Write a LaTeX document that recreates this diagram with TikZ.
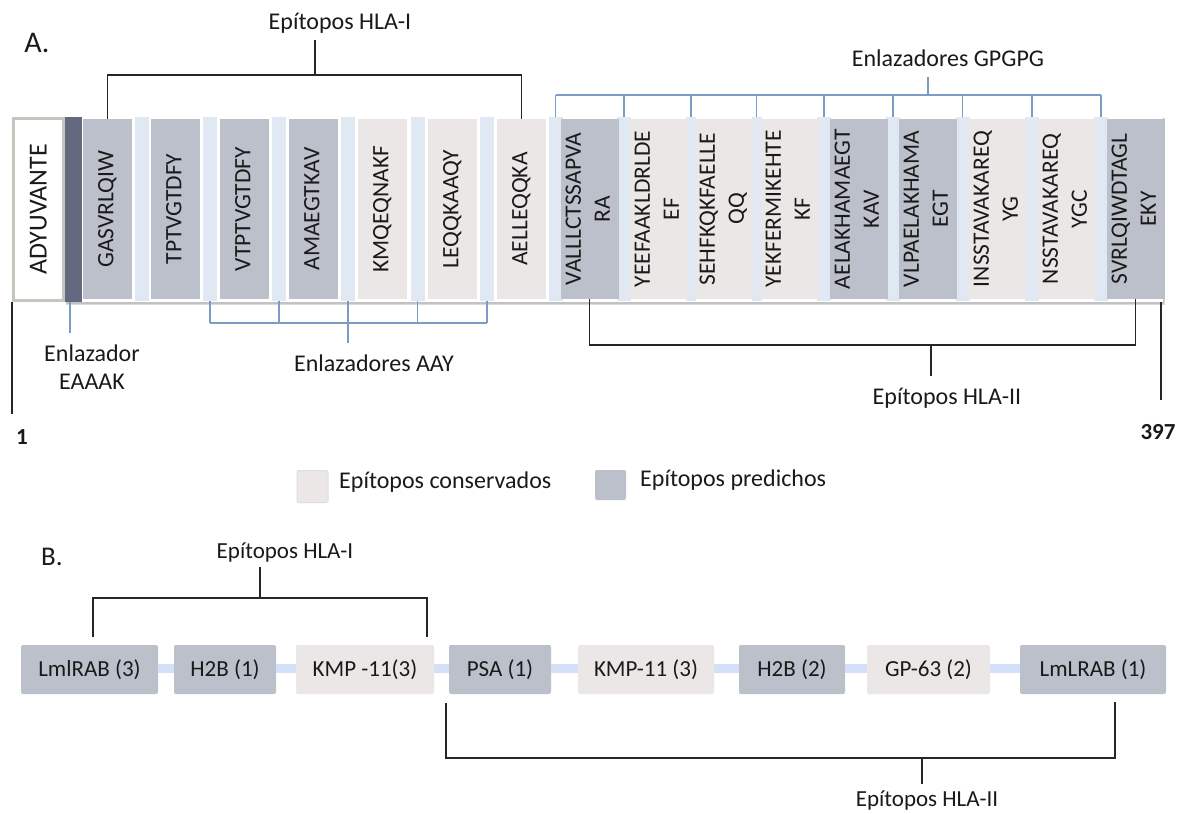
\documentclass[tikz,border=0pt]{standalone}
\usepackage{fontspec}
\setmainfont{Carlito}
\usetikzlibrary{calc}
\definecolor{pred}{HTML}{BCC0CB}
\definecolor{cons}{HTML}{EBE7E6}
\definecolor{lnkc}{HTML}{DFE8F3}
\definecolor{eaaak}{HTML}{636A80}
\definecolor{adjb}{HTML}{C8C5BF}
\definecolor{blueln}{HTML}{7D9BC4}
\definecolor{bbarc}{HTML}{D3E0F7}
\definecolor{txt}{HTML}{1A1A1A}
\definecolor{consb}{HTML}{E0DCDB}
\newcommand{\vtext}[1]{\rotatebox{90}{\begin{tabular}{@{}c@{}}#1\end{tabular}}}
\begin{document}
\begin{tikzpicture}[x=1pt,y=-1pt,
  epi/.style={minimum width=49pt,minimum height=180pt,inner sep=0pt,outer sep=0pt,
    font=\fontsize{23.5}{29}\selectfont,text=txt},
  lnk/.style={fill=lnkc,minimum width=14pt,minimum height=184pt,inner sep=0pt,outer sep=0pt},
  lbl/.style={font=\fontsize{24}{29}\selectfont,text=txt,inner sep=0pt,align=center},
  big/.style={font=\fontsize{30}{34}\selectfont,text=txt,inner sep=0pt},
  num/.style={font=\fontsize{23}{28}\selectfont\bfseries,text=txt,inner sep=0pt},
  blk/.style={line width=1.5pt,draw=black!85},
  blu/.style={line width=1.3pt,draw=blueln},
  bbox/.style={rounded corners=2pt,minimum height=49pt,inner sep=0pt,outer sep=0pt,
    font=\fontsize{23}{28}\selectfont,text=txt},
  bbar/.style={line width=9pt,draw=bbarc},
  leg/.style={rounded corners=2pt,minimum width=31pt,minimum height=32pt,inner sep=0pt}
]
\useasboundingbox[fill=white] (0,0) rectangle (1184,814);

% ---------------- A ----------------
\node[big] (labA) at (37,43) {A.};

% strip background with shadow
\fill[black!14] (66,118) rectangle (1165,305);
\fill[black!24] (66,118) rectangle (1164,303.5);
\fill[white] (65,116) rectangle (1163,302);

\node[draw=adjb,line width=3pt,fill=white,minimum width=50pt,minimum height=182pt,
  inner sep=0pt,font=\fontsize{26}{30}\selectfont,text=txt] (adj) at (38.5,209.5) {\rotatebox{90}{ADYUVANTE}};
\node[fill=eaaak,minimum width=17pt,minimum height=185pt,inner sep=0pt] (eaaak) at (73.5,209.5) {};

% linkers
\node[lnk] (l1) at (141.5,209) {};
\node[lnk] (l2) at (210,209) {};
\node[lnk] (l3) at (279,209) {};
\node[lnk] (l4) at (348,209) {};
\node[lnk] (l5) at (417.5,209) {};
\node[lnk] (l6) at (487,209) {};
\node[lnk] (l7) at (555.5,209) {};
\node[lnk] (l8) at (624,209) {};
\node[lnk,minimum width=10pt] (l9) at (691,209) {};
\node[lnk,minimum width=10pt] (l10) at (756.5,209) {};
\node[lnk] (l11) at (824,209) {};
\node[lnk] (l12) at (893,209) {};
\node[lnk] (l13) at (962.5,209) {};
\node[lnk] (l14) at (1032,209) {};
\node[lnk] (l15) at (1101,209) {};

% epitopes
\node[epi,fill=pred] (e1) at (107.5,209) {\vtext{GASVRLQIW}};
\node[epi,fill=pred] (e2) at (175.5,209) {\vtext{TPTVGTDFY}};
\node[epi,fill=pred] (e3) at (244.5,209) {\vtext{VTPTVGTDFY}};
\node[epi,fill=pred] (e4) at (313.5,209) {\vtext{AMAEGTKAV}};
\node[epi,fill=cons] (e5) at (382.5,209) {\vtext{KMQEQNAKF}};
\node[epi,fill=cons] (e6) at (452.5,209) {\vtext{LEQQKAAQY}};
\node[epi,fill=cons] (e7) at (521.5,209) {\vtext{AELLEQQKA}};
\node[epi,fill=pred] (e8) at (589.5,209) {\vtext{VALLLCTSSAPVA\\RA}};
\node[epi,fill=cons] (e9) at (658.5,209) {\vtext{YEEFAAKLDRLDE\\EF}};
\node[epi,fill=cons] (e10) at (723.5,209) {\vtext{SEHFKQKFAELLE\\QQ}};
\node[epi,fill=cons] (e11) at (789.5,209) {\vtext{YEKFERMIKEHTE\\KF}};
\node[epi,fill=pred] (e12) at (858.5,209) {\vtext{AELAKHAMAEGT\\KAV}};
\node[epi,fill=pred] (e13) at (927.5,209) {\vtext{VLPAELAKHAMA\\EGT}};
\node[epi,fill=cons] (e14) at (997.5,209) {\vtext{INSSTAVAKAREQ\\YG}};
\node[epi,fill=cons] (e15) at (1066.5,209) {\vtext{NSSTAVAKAREQ\\YGC}};
\node[epi,fill=pred] (e16) at (1135.5,209) {\vtext{SVRLQIWDTAGL\\EKY}};

% HLA-I bracket (A)
\node[lbl] (hlaIa) at (340,23) {Epítopos HLA-I};
\coordinate (hIatop) at (315,40);
\coordinate (hIay) at (315,75);
\draw[blk] (hIatop) -- (hIay);
\draw[blk] (e1.north) -- (e1.north |- hIay) -- (e7.north |- hIay) -- (e7.north);

% GPGPG bracket
\node[lbl] (gp) at (948,58) {Enlazadores GPGPG};
\coordinate (gptop) at (928,77);
\coordinate (gpy) at (928,95);
\draw[blu] (gptop) -- (gpy);
\draw[blu] (l7.north |- gpy) -- (l15.north |- gpy);
\foreach \k in {7,...,15}{\draw[blu] (l\k.north) -- (l\k.north |- gpy);}

% AAY bracket
\coordinate (aay) at (348,323);
\coordinate (aaybot) at (348,343);
\draw[blu] (l2.south |- aay) -- (l6.south |- aay);
\foreach \k in {2,...,6}{\draw[blu] (l\k.south) -- (l\k.south |- aay);}
\draw[blu] (aay) -- (aaybot);
\node[lbl] (aaytxt) at (374,363) {Enlazadores AAY};

% EAAAK pointer
\coordinate (eaptr) at (70,333);
\coordinate (eastart) at (70,302);
\draw[blu] (eastart) -- (eaptr);
\node[lbl,align=center] (eatxt) at (92,367) {Enlazador\\[-1pt]EAAAK};

% HLA-II bracket (A)
\coordinate (hIIay) at (931,345);
\coordinate (hIIabot) at (931,376);
\draw[blk] (e8.south) -- (e8.south |- hIIay) -- (e16.south |- hIIay) -- (e16.south);
\draw[blk] (hIIay) -- (hIIabot);
\node[lbl] (hlaIIa) at (947,398) {Epítopos HLA-II};

% ends 1 and 397
\node[num] (one) at (22,437) {1};
\coordinate (oneln) at (12,414);
\draw[line width=1.5pt,black!85] (adj.south west) -- (oneln);
\node[num] (end) at (1158,432) {397};
\coordinate (endtop) at (1161,302);
\coordinate (endln) at (1161,400);
\draw[line width=1.5pt,black!85] (endtop) -- (endln);

% legend
\node[leg,fill=cons,draw=consb,line width=1pt] (legc) at (312.5,486.5) {};
\node[lbl,anchor=west] (legct) at (339,482) {Epítopos conservados};
\node[leg,fill=pred,minimum height=30pt] (legp) at (610.5,485) {};
\node[lbl,anchor=west] (legpt) at (640,480) {Epítopos predichos};

% ---------------- B ----------------
\node[big,font=\fontsize{27}{30}\selectfont] (labB) at (52,557) {B.};

\node[bbox,fill=pred,minimum width=137pt] (b1) at (89.5,669.5) {LmlRAB (3)};
\node[bbox,fill=pred,minimum width=102pt] (b2) at (225,669.5) {H2B (1)};
\node[bbox,fill=cons,minimum width=138pt] (b3) at (365,669.5) {KMP -11(3)};
\node[bbox,fill=pred,minimum width=102pt] (b4) at (500,669.5) {PSA (1)};
\node[bbox,fill=cons,minimum width=136pt] (b5) at (646,669.5) {KMP-11 (3)};
\node[bbox,fill=pred,minimum width=106pt] (b6) at (792,669.5) {H2B (2)};
\node[bbox,fill=cons,minimum width=123pt] (b7) at (928.5,669.5) {GP-63 (2)};
\node[bbox,fill=pred,minimum width=146pt] (b8) at (1093,669.5) {LmLRAB (1)};

\foreach \a/\b in {b1/b2,b2/b3,b3/b4,b4/b5,b5/b6,b6/b7,b7/b8}{
  \draw[bbar] ([yshift=1pt]\a.east) -- ([yshift=1pt]\b.west);}

% HLA-I bracket (B)
\node[lbl,font=\fontsize{23}{28}\selectfont] (hlaIb) at (285,552) {Epítopos HLA-I};
\coordinate (hIbtop) at (260,567);
\coordinate (hIby) at (260,598);
\coordinate (hIbl) at (93,637);
\coordinate (hIbr) at (427,637);
\draw[blk] (hIbtop) -- (hIby);
\draw[blk] (hIbl) -- (hIbl |- hIby) -- (hIbr |- hIby) -- (hIbr);

% HLA-II bracket (B)
\coordinate (hIIbl) at (446,703);
\coordinate (hIIbr) at (1115,702);
\coordinate (hIIby) at (922,758);
\coordinate (hIIbbot) at (922,784);
\draw[blk] (hIIbl) -- (hIIbl |- hIIby) -- (hIIbr |- hIIby) -- (hIIbr);
\draw[blk] (hIIby) -- (hIIbbot);
\node[lbl,font=\fontsize{23}{28}\selectfont] (hlaIIb) at (927,800) {Epítopos HLA-II};
\end{tikzpicture}
\end{document}
